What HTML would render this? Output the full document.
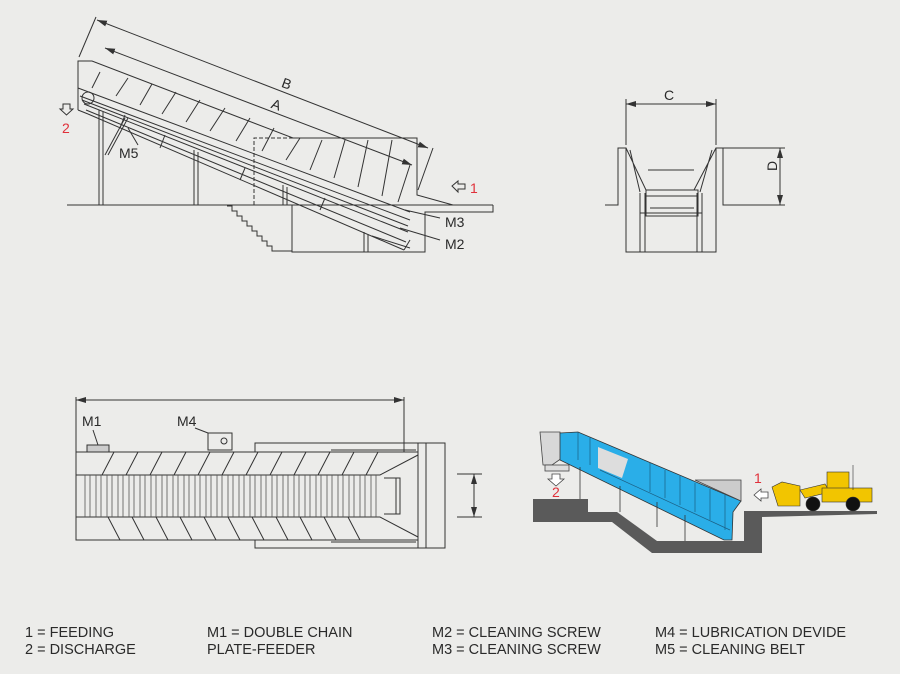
<!DOCTYPE html>
<html><head><meta charset="utf-8"><style>
html,body{margin:0;padding:0;background:#ececea;}
svg{display:block}
text{font-family:"Liberation Sans",sans-serif;fill:#2a2a2a}
</style></head><body>
<svg width="900" height="674" viewBox="0 0 900 674" xmlns="http://www.w3.org/2000/svg">
<rect width="900" height="674" fill="#ececea"/>
<defs>
<marker id="ar" markerWidth="10" markerHeight="6" refX="10" refY="3" orient="auto" markerUnits="userSpaceOnUse"><path d="M0,0 L10,3 L0,6 z" fill="#333"/></marker>
<marker id="al" markerWidth="10" markerHeight="6" refX="0" refY="3" orient="auto" markerUnits="userSpaceOnUse"><path d="M10,0 L0,3 L10,6 z" fill="#333"/></marker>
</defs>
<g stroke="#333" stroke-width="1" fill="none">
<!-- SIDE VIEW -->
<line x1="67" y1="205" x2="493" y2="205"/>
<polyline points="292,205 292,252 425,252 425,212 493,212 493,205"/>
<polyline points="227,206 232,206 232,211 237,211 237,216 242,216 242,221 247,221 247,226 252,226 252,231 257,231 257,236 262,236 262,241 267,241 267,246 272,246 272,251 292,251"/>
<!-- conveyor -->
<polyline points="78,110 78,61 92,61 293,138 417,138 417,195 453,205"/>
<line x1="78" y1="88" x2="410" y2="212"/>
<line x1="80" y1="96" x2="410" y2="220"/>
<line x1="82" y1="100" x2="408" y2="226"/>
<line x1="84" y1="104" x2="408" y2="232"/>
<line x1="86" y1="110" x2="406" y2="242"/>
<line x1="88" y1="114" x2="404" y2="250"/>
<line x1="372" y1="236" x2="410" y2="248"/>
<line x1="404" y1="250" x2="410" y2="240"/>
<line x1="78" y1="110" x2="88" y2="114"/>
<circle cx="88" cy="98" r="6"/>
<path d="M92,88 L100,72 M116,96 L128,78 M140,105 L152,84 M162,114 L176,92 M186,122 L200,100 M210,131 L225,108 M236,141 L250,118 M262,151 L274,128 M286,160 L300,138 M310,170 L322,140 M334,178 L345,140 M358,187 L368,140 M382,196 L392,140 M398,202 L410,165"/>
<path d="M120,128 L125,115 M160,148 L165,135 M240,180 L245,168 M320,210 L325,198"/>
<!-- legs -->
<line x1="99" y1="110" x2="99" y2="205"/><line x1="103" y1="112" x2="103" y2="205"/>
<line x1="194" y1="150" x2="194" y2="205"/><line x1="198" y1="152" x2="198" y2="205"/>
<line x1="283" y1="185" x2="283" y2="205"/><line x1="287" y1="187" x2="287" y2="205"/>
<line x1="364" y1="232" x2="364" y2="252"/><line x1="368" y1="234" x2="368" y2="252"/>
<line x1="105" y1="155" x2="125" y2="118"/><line x1="108" y1="155" x2="128" y2="118"/>
<polyline points="254,205 254,138 293,138" stroke-dasharray="4,2"/>
<!-- dims -->
<line x1="79" y1="57" x2="96" y2="17"/>
<line x1="418" y1="190" x2="433" y2="148"/>
<line x1="97" y1="20" x2="428" y2="148" marker-start="url(#al)" marker-end="url(#ar)"/>
<line x1="105" y1="48" x2="412" y2="165" marker-start="url(#al)" marker-end="url(#ar)"/>
<line x1="405" y1="210" x2="440" y2="218"/>
<line x1="400" y1="228" x2="440" y2="240"/>
<line x1="128" y1="128" x2="138" y2="145"/>
<!-- arrows outlines -->
<path d="M63,104 h7 v5 h3 l-6.5,6 l-6.5,-6 h3 z"/>
<path d="M452,186 l6,-5 v3 h7 v5 h-7 v3 z"/>
<!-- SECTION -->
<line x1="626" y1="104" x2="716" y2="104" marker-start="url(#al)" marker-end="url(#ar)"/>
<line x1="626" y1="99" x2="626" y2="145"/><line x1="716" y1="99" x2="716" y2="145"/>
<polyline points="605,205 618,205 618,148 626,148 626,252 716,252 716,148 723,148 723,205 740,205"/>
<line x1="740" y1="205" x2="785" y2="205"/><line x1="723" y1="148" x2="785" y2="148"/>
<line x1="780" y1="148" x2="780" y2="205" marker-start="url(#al)" marker-end="url(#ar)"/>
<path d="M626,148 L646,190 M630,150 L640,192 M716,148 L694,190 M712,150 L700,192 M648,170 L694,170"/>
<rect x="646" y="190" width="52" height="6"/>
<rect x="646" y="196" width="52" height="20"/>
<line x1="650" y1="208" x2="694" y2="208"/>
<path d="M640,193 V252 M645,193 V252 M697,193 V252 M702,193 V252 M640,213 H702"/>
<!-- PLAN -->
<line x1="76" y1="400" x2="404" y2="400" marker-start="url(#al)" marker-end="url(#ar)"/>
<line x1="76" y1="397" x2="76" y2="455"/><line x1="404" y1="397" x2="404" y2="470"/>
<rect x="255" y="443" width="190" height="105"/>
<line x1="418" y1="443" x2="418" y2="548"/><line x1="426" y1="443" x2="426" y2="548"/>
<rect x="76" y="452" width="342" height="88" fill="#ececea"/>
<line x1="76" y1="475" x2="380" y2="475"/><line x1="76" y1="517" x2="380" y2="517"/>
<line x1="331" y1="450" x2="416" y2="450"/><line x1="331" y1="542" x2="416" y2="542"/>
<path d="M380,475 L418,455 M380,517 L418,537 M384,478 H400 V514 H384 M396,478 V514"/>
<path d="M102,475 l12,-23 M126,475 l12,-23 M150,475 l12,-23 M174,475 l12,-23 M198,475 l12,-23 M222,475 l12,-23 M246,475 l12,-23 M270,475 l12,-23 M294,475 l12,-23 M318,475 l12,-23 M342,475 l12,-23 M366,475 l12,-23"/>
<path d="M108,517 l12,23 M132,517 l12,23 M156,517 l12,23 M180,517 l12,23 M204,517 l12,23 M228,517 l12,23 M252,517 l12,23 M276,517 l12,23 M300,517 l12,23 M324,517 l12,23 M348,517 l12,23"/>
<path stroke="#555" stroke-width="0.8" d="M85,475V517M90,475V517M96,475V517M101,475V517M107,475V517M112,475V517M118,475V517M123,475V517M129,475V517M134,475V517M140,475V517M145,475V517M151,475V517M156,475V517M162,475V517M167,475V517M173,475V517M178,475V517M184,475V517M189,475V517M195,475V517M200,475V517M206,475V517M211,475V517M217,475V517M222,475V517M228,475V517M233,475V517M239,475V517M244,475V517M250,475V517M255,475V517M261,475V517M266,475V517M272,475V517M277,475V517M283,475V517M288,475V517M294,475V517M299,475V517M305,475V517M310,475V517M316,475V517M321,475V517M327,475V517M332,475V517M338,475V517M343,475V517M349,475V517M354,475V517M360,475V517M365,475V517M371,475V517M376,475V517"/>
<rect x="87" y="445" width="22" height="7" fill="#ccc"/>
<line x1="93" y1="430" x2="98" y2="445"/>
<rect x="208" y="433" width="24" height="17"/>
<circle cx="224" cy="441" r="3"/>
<line x1="195" y1="428" x2="208" y2="433"/>
<line x1="457" y1="474" x2="482" y2="474"/><line x1="457" y1="517" x2="482" y2="517"/>
<line x1="474" y1="474" x2="474" y2="517" marker-start="url(#al)" marker-end="url(#ar)"/>
</g>
<!-- COLOURED -->
<polygon points="533,499 588,499 588,512 617,512 657,541 744,541 744,511 760,511 877,511 877,514 762,517 762,553 652,553 612,522 533,522" fill="#5a5a5a"/>
<polygon points="540,432 560,432 562,458 552,465 543,465" fill="#d8d8d8" stroke="#444" stroke-width="0.8"/>
<rect x="545" y="465" width="24" height="6" fill="#ddd" stroke="#444" stroke-width="0.8"/>
<polygon points="560,433 578,432 741,501 733,512 732,540 724,540 560,460" fill="#2aaee8" stroke="#333" stroke-width="0.8"/>
<polygon points="598,447 628,459 622,478 598,468" fill="#ddd"/>
<polygon points="695,480 741,480 741,501" fill="#ccc" stroke="#444" stroke-width="0.8"/>
<g stroke="#1c5f84" stroke-width="0.7" fill="none">
<path d="M578,432 V460 M590,437 V465 M650,463 V492 M665,470 V498 M680,476 V505 M695,483 V512 M710,489 V520 M725,495 V530 M600,470 L730,530"/>
</g>
<g stroke="#333" stroke-width="0.8">
<line x1="580" y1="467" x2="580" y2="499"/><line x1="620" y1="486" x2="620" y2="512"/><line x1="657" y1="502" x2="657" y2="527"/><line x1="685" y1="515" x2="685" y2="541"/>
</g>
<path d="M552,474 h8 v5 h4 l-8,7 l-8,-7 h4 z" fill="#fff" stroke="#444" stroke-width="0.8"/>
<path d="M754,495 l7,-6 v3 h7 v6 h-7 v3 z" fill="#fff" stroke="#444" stroke-width="0.8"/>
<!-- loader -->
<g stroke="#333" stroke-width="0.6">
<polygon points="772,487 782,482 800,486 800,506 778,506" fill="#f2c500"/>
<polygon points="800,490 825,484 830,492 805,498" fill="#f2c500"/>
<rect x="827" y="472" width="22" height="18" fill="#f2c500"/>
<rect x="822" y="488" width="50" height="14" fill="#f2c500"/>
<line x1="853" y1="465" x2="853" y2="490"/>
<circle cx="813" cy="504" r="7" fill="#111"/>
<circle cx="853" cy="504" r="7" fill="#111"/>
</g>
<g font-size="14">
<text x="282" y="89" transform="rotate(20 288 84)">B</text>
<text x="272" y="110" transform="rotate(20 278 104)">A</text>
<text x="119" y="158">M5</text>
<text x="445" y="227">M3</text>
<text x="445" y="249">M2</text>
<text x="470" y="193" fill="#e0303a" style="fill:#e0303a">1</text>
<text x="62" y="133" style="fill:#e0303a">2</text>
<text x="664" y="100">C</text>
<text x="776" y="182" transform="rotate(-90 771 176)">D</text>
<text x="82" y="426">M1</text>
<text x="177" y="426">M4</text>
<text x="754" y="483" style="fill:#e0303a">1</text>
<text x="552" y="497" style="fill:#e0303a">2</text>
</g>
<g font-size="14.5">
<text x="25" y="637">1 = FEEDING</text>
<text x="25" y="654">2 = DISCHARGE</text>
<text x="207" y="637">M1 = DOUBLE CHAIN</text>
<text x="207" y="654">PLATE-FEEDER</text>
<text x="432" y="637">M2 = CLEANING SCREW</text>
<text x="432" y="654">M3 = CLEANING SCREW</text>
<text x="655" y="637">M4 = LUBRICATION DEVIDE</text>
<text x="655" y="654">M5 = CLEANING BELT</text>
</g>
</svg>
</body></html>
